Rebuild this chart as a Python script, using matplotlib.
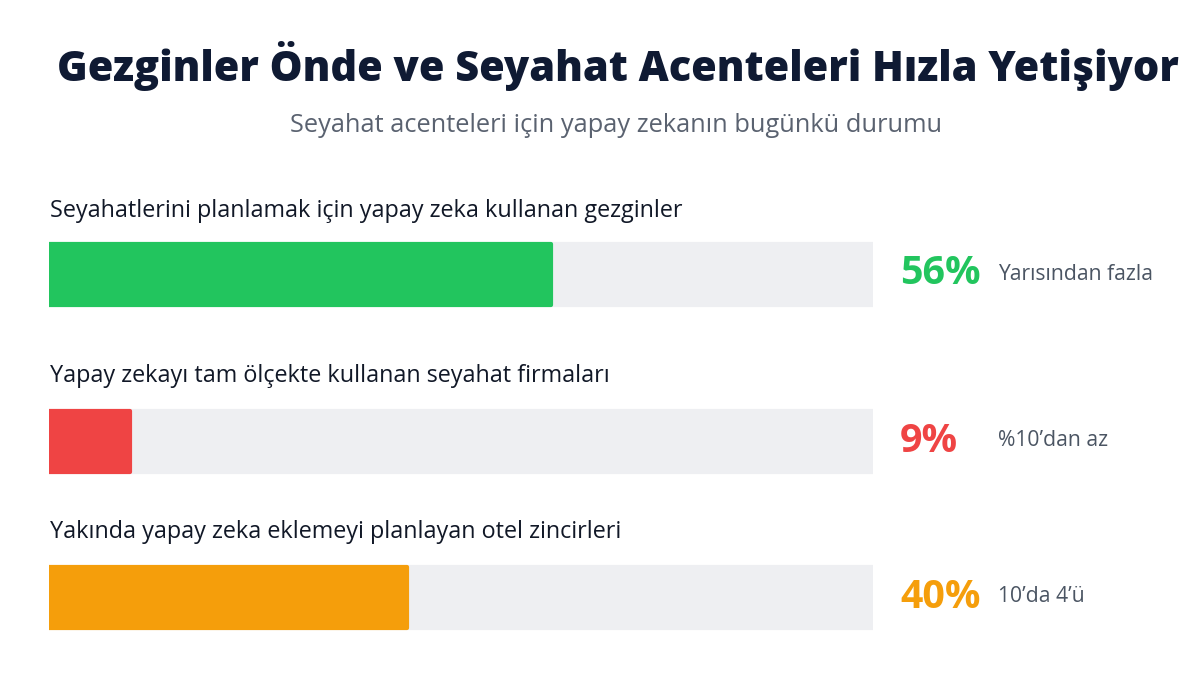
import matplotlib.pyplot as plt

# datos del grafico
etiquetas = [
    'Seyahatlerini planlamak için yapay zeka kullanan gezginler',
    'Yapay zekayı tam ölçekte kullanan seyahat firmaları',
    'Yakında yapay zeka eklemeyi planlayan otel zincirleri',
]
valores = [56, 9, 40]
notas = ['Yarısından fazla', '%10’dan az', '10’da 4’ü']
colores = ['#22c55e', '#ef4444', '#f59e0b']

titulo = 'Gezginler Önde ve Seyahat Acenteleri Hızla Yetişiyor'
subtitulo = 'Seyahat acenteleri için yapay zekanın bugünkü durumu'

escala_max = 92
pos_barras = [274, 441, 597]   # centro vertical en px
pos_textos = [211, 376, 532]
alto_barra = 61

plt.rcParams['font.family'] = ['Open Sans', 'DejaVu Sans']

fig = plt.figure(figsize=(12, 6.75), dpi=100)
fig.patch.set_facecolor('white')

# eje que ocupa toda la altura, x en porcentaje
izq, der = 49 / 1200, 873 / 1200
ax = fig.add_axes([izq, 0, der - izq, 1])
ax.set_xlim(0, escala_max)
ax.set_ylim(675, 0)
ax.axis('off')

for i in range(len(valores)):
    ax.barh(pos_barras[i], escala_max, height=alto_barra, color='#eeeff2',
            edgecolor='#eeeff2', linewidth=3, joinstyle='round')
    ax.barh(pos_barras[i], valores[i], height=alto_barra, color=colores[i],
            edgecolor=colores[i], linewidth=3, joinstyle='round')
    fig.text(50 / 1200, 1 - pos_textos[i] / 675, etiquetas[i], fontsize=16.8,
             color='#111827', va='center', ha='left')
    fig.text(900 / 1200, 1 - pos_barras[i] / 675, f'{valores[i]}%', fontsize=28.4,
             color=colores[i], fontweight='bold', va='center', ha='left')
    fig.text(998 / 1200, 1 - pos_barras[i] / 675, notas[i], fontsize=15.2,
             color='#4b5563', va='center', ha='left')

fig.text(0.515, 1 - 66 / 675, titulo, fontsize=29.9, fontweight='heavy',
         color='#0f1a33', ha='center', va='center')
fig.text(0.513, 1 - 125 / 675, subtitulo, fontsize=18.3, color='#5a6270',
         ha='center', va='center')

fig.savefig('out.png', dpi=100)
